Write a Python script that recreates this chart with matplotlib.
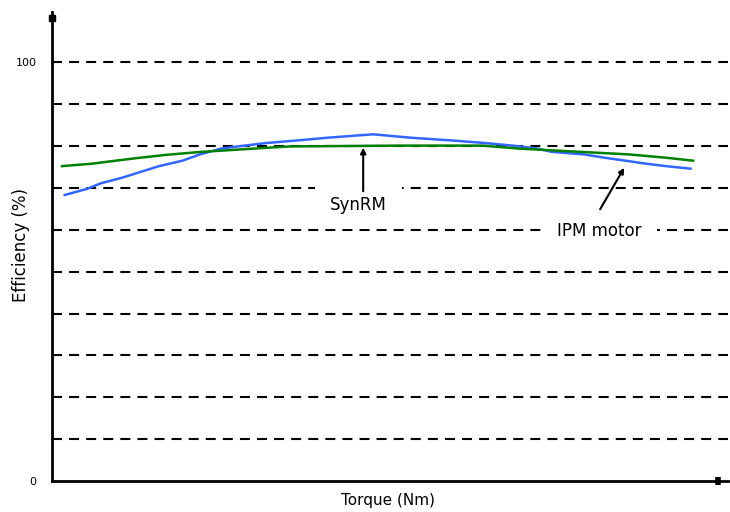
import matplotlib
matplotlib.use("Agg")
import matplotlib.pyplot as plt

plt.rcParams['font.family'] = ['DejaVu Sans']

# Torque (arbitrary units across the operating range) and efficiency (%)
torque_ipm = [1.9, 5.3, 7.3, 10.4, 13.4, 16.0, 19.5, 22.1, 25.3, 28.8, 31.9,
              36.4, 41.3, 48.0, 53.5, 60.0, 64.8, 68.8, 72.5, 74.7, 79.5,
              82.6, 85.7, 88.7, 91.7, 95.4]
eff_ipm = [68.3, 69.8, 71.1, 72.4, 73.9, 75.2, 76.5, 78.0, 79.4, 80.1, 80.7,
           81.3, 82.0, 82.8, 82.0, 81.3, 80.7, 80.1, 79.4, 78.6, 78.0,
           77.2, 76.5, 75.8, 75.2, 74.6]

torque_syn = [1.5, 6.1, 9.5, 13.1, 17.1, 22.3, 30.3, 35.4, 51.7, 64.3, 69.7,
              79.0, 86.2, 91.8, 95.8]
eff_syn = [75.2, 75.8, 76.5, 77.2, 77.9, 78.6, 79.4, 79.9, 80.1, 80.1, 79.4,
           78.6, 78.0, 77.2, 76.5]

grid_levels = [10, 20, 30, 40, 50, 60, 70, 80, 90, 100]
ytick_values = [0, 100]
ytick_labels = ["0", "100"]

fig = plt.figure(figsize=(7.3, 5.12), dpi=100)
ax = fig.add_axes([0.0712, 0.0605, 0.926, 0.916])
ax.set_xlim(0, 101)
ax.set_ylim(0, 112)

for lv in grid_levels:
    ax.axhline(lv, color='black', lw=1.5, ls=(0, (4.8, 3.4)), zorder=1)

ax.plot(torque_syn, eff_syn, color='#008000', lw=1.8, zorder=3)
ax.plot(torque_ipm, eff_ipm, color='#3366ff', lw=1.8, zorder=2)

for s in ['top', 'right']:
    ax.spines[s].set_visible(False)
for s in ['left', 'bottom']:
    ax.spines[s].set_linewidth(2)

ax.set_xticks([99.5])
ax.set_xticklabels([""])
ax.tick_params(axis='x', direction='inout', length=6, width=4)
ax.set_yticks(ytick_values)
ax.set_yticklabels(ytick_labels, fontsize=8)
ax.tick_params(axis='y', length=0, pad=11)
ax.plot([0], [110.5], marker='s', color='black', ms=4, clip_on=False, zorder=5)

ax.set_xlabel("Torque (Nm)", fontsize=11)
ax.xaxis.set_label_coords(0.497, -0.026)
ax.set_ylabel("Efficiency (%)", fontsize=12)
ax.yaxis.set_label_coords(-0.033, 0.503)

# Series labels with white boxes that interrupt the grid lines
ax.text(45.8, 66.0, "SynRM", ha='center', va='center', fontsize=12,
        bbox=dict(boxstyle='square,pad=0.9', fc='white', ec='none'), zorder=6)
ax.text(81.8, 59.8, "IPM motor", ha='center', va='center', fontsize=12,
        bbox=dict(boxstyle='square,pad=0.9', fc='white', ec='none'), zorder=6)

arrow = dict(arrowstyle='-|>', color='black', lw=1.5, mutation_scale=8,
             shrinkA=0, shrinkB=0)
ax.annotate("", xy=(46.5, 79.6), xytext=(46.5, 69.2), arrowprops=arrow, zorder=7)
ax.annotate("", xy=(85.5, 74.8), xytext=(81.9, 64.9), arrowprops=arrow, zorder=7)

fig.savefig("out.png", dpi=100)
